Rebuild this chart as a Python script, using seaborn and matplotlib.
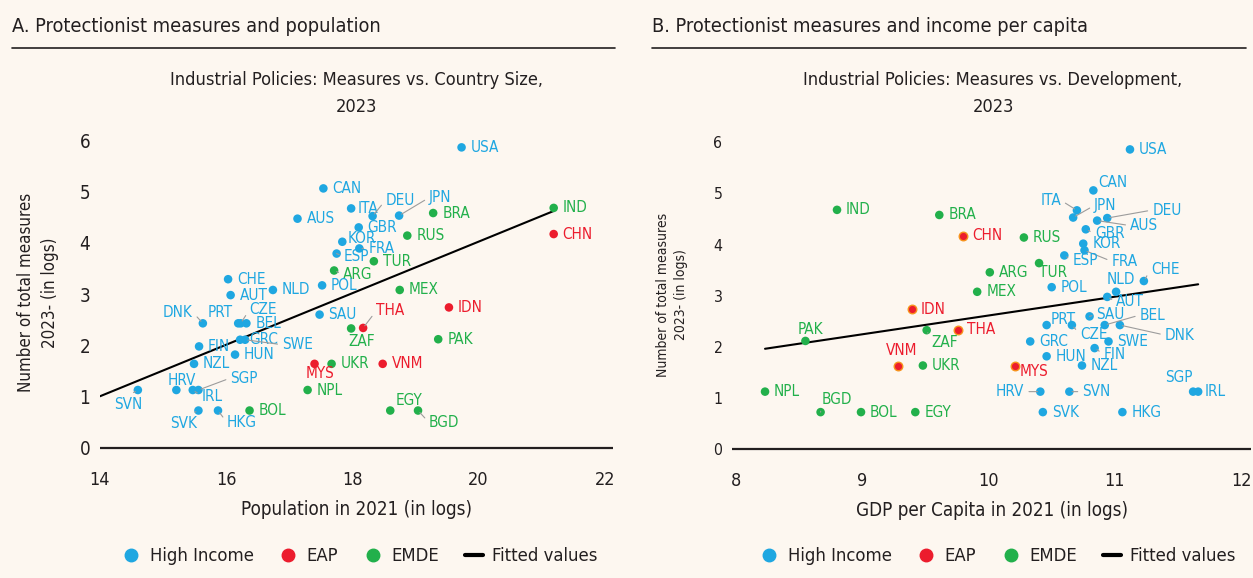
import numpy as np
import pandas as pd
import matplotlib
matplotlib.use("Agg")
import matplotlib.pyplot as plt
from matplotlib.lines import Line2D
import seaborn as sns

# ---- data -------------------------------------------------------------
countries = ["USA", "CAN", "ITA", "AUS", "GBR", "DEU", "JPN", "BRA", "RUS", "KOR",
             "FRA", "ESP", "TUR", "ARG", "POL", "MEX", "IND", "CHN", "IDN", "SAU",
             "THA", "ZAF", "PAK", "MYS", "UKR", "VNM", "NPL", "EGY", "BGD", "CHE",
             "AUT", "NLD", "DNK", "PRT", "CZE", "BEL", "GRC", "SWE", "FIN", "HUN",
             "NZL", "HRV", "IRL", "SGP", "SVN", "SVK", "HKG", "BOL"]

groups = ["High Income", "High Income", "High Income", "High Income", "High Income",
          "High Income", "High Income", "EMDE", "EMDE", "High Income",
          "High Income", "High Income", "EMDE", "EMDE", "High Income", "EMDE",
          "EMDE", "EAP", "EAP", "High Income",
          "EAP", "EMDE", "EMDE", "EAP", "EMDE", "EAP", "EMDE", "EMDE", "EMDE",
          "High Income", "High Income", "High Income", "High Income", "High Income",
          "High Income", "High Income", "High Income", "High Income", "High Income",
          "High Income", "High Income", "High Income", "High Income", "High Income",
          "High Income", "High Income", "High Income", "EMDE"]

# population in 2021 (logs)
pop_log = [19.73, 17.54, 17.98, 17.13, 18.10, 18.32, 18.74, 19.28, 18.87, 17.84,
           18.11, 17.75, 18.34, 17.71, 17.52, 18.75, 21.19, 21.19, 19.53, 17.48,
           18.17, 17.98, 19.36, 17.40, 17.67, 18.48, 17.29, 18.60, 19.04, 16.03,
           16.07, 16.74, 15.63, 16.19, 16.23, 16.32, 16.22, 16.30, 15.57, 16.14,
           15.49, 15.21, 15.47, 15.56, 14.60, 15.56, 15.87, 16.37]

# GDP per capita in 2021 (logs)
gdp_log = [11.12, 10.83, 10.70, 10.86, 10.77, 10.94, 10.67, 9.61, 10.28, 10.75,
           10.76, 10.60, 10.40, 10.01, 10.50, 9.91, 8.80, 9.80, 9.39, 10.80,
           9.76, 9.51, 8.55, 10.21, 9.48, 9.28, 8.23, 9.42, 8.67, 11.23,
           10.94, 11.01, 11.04, 10.46, 10.66, 10.92, 10.33, 10.95, 10.84, 10.46,
           10.74, 10.41, 11.66, 11.62, 10.64, 10.43, 11.06, 8.99]

# number of total measures 2023 (logs)
measures_log = [5.86, 5.06, 4.67, 4.47, 4.30, 4.52, 4.53, 4.58, 4.14, 4.02,
                3.89, 3.79, 3.64, 3.46, 3.17, 3.08, 4.68, 4.17, 2.74, 2.60,
                2.34, 2.33, 2.12, 1.64, 1.64, 1.64, 1.13, 0.73, 0.73, 3.29,
                2.98, 3.08, 2.43, 2.43, 2.43, 2.43, 2.11, 2.11, 1.98, 1.82,
                1.64, 1.13, 1.13, 1.13, 1.13, 0.73, 0.73, 0.73]

group_order = ["High Income", "EAP", "EMDE"]

df = pd.DataFrame({"country": countries, "group": groups, "pop": pop_log,
                   "gdp": gdp_log, "measures": measures_log})

# ---- style ------------------------------------------------------------
BG = "#fdf7f0"
INK = "#231f20"
LEADER = "#9c9c9c"
palette = {"High Income": "#1fa7e1", "EAP": "#ec1c2d", "EMDE": "#22b04b"}
EAP_EDGE = "#f7941d"

sns.set_theme(style="white")
plt.rcParams["font.family"] = ["DejaVu Sans"]
plt.rcParams["font.stretch"] = "condensed"
plt.rcParams["text.color"] = INK
plt.rcParams["axes.labelcolor"] = INK
plt.rcParams["xtick.color"] = INK
plt.rcParams["ytick.color"] = INK

W, H = 1253, 578
fig = plt.figure(figsize=(W / 100, H / 100), dpi=100, facecolor=BG)


def fx(px):
    return px / W


def fy(py):
    return 1 - py / H


# label placement: (dx, dy) in pixels (dy positive = down), alignment, leader line
DEFAULT = (9, 0, "left", False)
labels_pop = {
    "ITA": (6, 0, "left", False), "DEU": (13, -16, "left", True),
    "JPN": (30, -18, "left", True), "KOR": (5, -3, "left", False),
    "FRA": (9, 0, "left", True), "ESP": (7, 3, "left", True),
    "ARG": (9, 4, "left", True), "THA": (13, -17, "left", True),
    "ZAF": (-3, 13, "left", False), "MYS": (-9, 10, "left", False),
    "EGY": (5, -10, "left", False), "BGD": (11, 12, "left", True),
    "DNK": (-10, -11, "right", True), "PRT": (-5, -11, "right", False),
    "CZE": (9, -14, "left", True), "SWE": (37, 5, "left", True),
    "HRV": (-9, -10, "left", False), "SGP": (32, -12, "left", True),
    "IRL": (9, 6, "left", True), "SVN": (-24, 14, "left", True),
    "SVK": (-28, 13, "left", True), "HKG": (9, 12, "left", True),
}
labels_gdp = {
    "CAN": (5, -8, "left", False), "ITA": (-16, -10, "right", True),
    "JPN": (21, -12, "left", True), "DEU": (45, -8, "left", True),
    "AUS": (33, 5, "left", True), "GBR": (9, 4, "left", True),
    "FRA": (27, 11, "left", True), "ESP": (8, 5, "left", True),
    "CHE": (7, -12, "left", True), "NLD": (-9, -12, "left", False),
    "AUT": (9, 5, "left", True), "TUR": (0, 9, "left", False),
    "PAK": (-8, -11, "left", False), "ZAF": (5, 12, "left", True),
    "VNM": (-12, -15, "left", False), "BGD": (1, -13, "left", True),
    "SAU": (7, -2, "left", True), "PRT": (4, -6, "left", False),
    "CZE": (8, 9, "left", True), "BEL": (35, -10, "left", True),
    "DNK": (45, 10, "left", True), "FIN": (9, 6, "left", True),
    "MYS": (5, 6, "left", False), "HRV": (-16, 0, "right", True),
    "SVN": (13, 0, "left", True), "SGP": (-28, -14, "left", False),
    "IRL": (6, 0, "left", False),
}


def draw_panel(ax, xcol, label_pos, xlim, xticks, xlabel, fit_start, ytick_size,
               ylabel_size, ylabel_pad, ylabel_spacing, eap_edge):
    ax.set_facecolor(BG)
    for g in group_order:
        sub = df[df["group"] == g]
        edge = EAP_EDGE if (g == "EAP" and eap_edge) else "none"
        sns.scatterplot(data=sub, x=xcol, y="measures", color=palette[g], s=38,
                        edgecolor=edge, linewidth=1.0 if edge != "none" else 0,
                        ax=ax, legend=False, zorder=3)

    # least-squares fitted values
    slope, intercept = np.polyfit(df[xcol], df["measures"], 1)
    lo = df[xcol].min() if fit_start is None else fit_start
    xs = np.array([lo, df[xcol].max()])
    sns.lineplot(x=xs, y=intercept + slope * xs, color="black", lw=1.5, ax=ax,
                 zorder=2)
    ax.axhline(0, color=INK, lw=1.6, zorder=1)

    for _, r in df.iterrows():
        dx, dy, ha, leader = label_pos.get(r["country"], DEFAULT)
        kw = {}
        if leader:
            kw["arrowprops"] = dict(arrowstyle="-", color=LEADER, lw=0.8,
                                    shrinkA=1, shrinkB=2,
                                    relpos=(0, 0.5) if ha == "left" else (1, 0.5))
        ax.annotate(r["country"], xy=(r[xcol], r["measures"]), xytext=(dx, -dy),
                    textcoords="offset pixels", ha=ha, va="center",
                    color=palette[r["group"]], fontsize=11, zorder=4, **kw)

    ax.set_xlim(*xlim)
    ax.set_ylim(-0.25, 6.3)
    ax.set_xticks(xticks)
    ax.set_yticks(range(0, 7))
    ax.tick_params(axis="x", length=0, pad=7, labelsize=13)
    ax.tick_params(axis="y", length=0, pad=7, labelsize=ytick_size)
    for s in ax.spines.values():
        s.set_visible(False)
    ax.set_xlabel(xlabel, fontsize=13.5, labelpad=8)
    ax.set_ylabel("Number of total measures\n2023- (in logs)", fontsize=ylabel_size,
                  labelpad=ylabel_pad, linespacing=ylabel_spacing)
    ax.grid(False)


ax1 = fig.add_axes([fx(100), fy(460.8), fx(513), (460.8 - 124.8) / H])
draw_panel(ax1, "pop", labels_pop, (14, 22.13), [14, 16, 18, 20, 22],
           "Population in 2021 (in logs)", 14.0, 13.5, 12.2, 15, 1.4, False)

ax2 = fig.add_axes([fx(732.2), fy(462.3), fx(519), (462.3 - 126.9) / H])
draw_panel(ax2, "gdp", labels_gdp, (7.97, 12.08), [8, 9, 10, 11, 12],
           "GDP per Capita in 2021 (in logs)", None, 11.3, 10, 18, 1.4, True)

# ---- headings ---------------------------------------------------------
fig.text(fx(12), fy(32), "A. Protectionist measures and population",
         fontsize=14.3, va="baseline", ha="left")
fig.text(fx(652), fy(32), "B. Protectionist measures and income per capita",
         fontsize=14.3, va="baseline", ha="left")
fig.add_artist(Line2D([fx(12), fx(615)], [fy(47.5)] * 2, color=INK, lw=1.2))
fig.add_artist(Line2D([fx(652), fx(1246)], [fy(47.5)] * 2, color=INK, lw=1.2))

fig.text(fx(356), fy(85), "Industrial Policies: Measures vs. Country Size,",
         fontsize=13.1, ha="center", va="baseline")
fig.text(fx(356), fy(112), "2023", fontsize=13.1, ha="center", va="baseline")
fig.text(fx(993), fy(85), "Industrial Policies: Measures vs. Development,",
         fontsize=13.1, ha="center", va="baseline")
fig.text(fx(993), fy(112), "2023", fontsize=13.1, ha="center", va="baseline")

# ---- legends ----------------------------------------------------------
handles = [Line2D([], [], marker="o", ls="", color=palette[g], markersize=9,
                  label=g) for g in group_order]
handles.append(Line2D([], [], color="black", lw=3, label="Fitted values"))
for cx in (360, 998):
    fig.legend(handles=handles, ncol=4, loc="center",
               bbox_to_anchor=(fx(cx), fy(556)), frameon=False, fontsize=13.2,
               handlelength=1.0, handletextpad=0.5, columnspacing=1.4)

fig.savefig("out.png", dpi=100, facecolor=BG)
